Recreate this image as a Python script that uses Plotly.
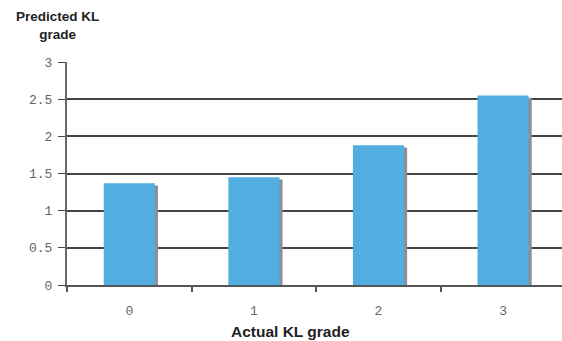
import plotly.graph_objects as go

# Mean predicted KL grade for each actual KL grade
categories = ["0", "1", "2", "3"]
predicted = [1.37, 1.45, 1.88, 2.55]

y_tick_vals = [0, 0.5, 1, 1.5, 2, 2.5, 3]
y_tick_text = ["0", "0.5", "1", "1.5", "2", "2.5", "3"]

bar_color = "#52ADE0"
shadow_color = "#8A9096"
bar_width = 0.41

plot_left, plot_width = 67, 495

fig = go.Figure()

# drop shadow drawn behind each bar, nudged right and down
fig.add_trace(go.Bar(
    x=categories,
    y=[v - 0.03 for v in predicted],
    width=bar_width,
    offset=-bar_width / 2 + 0.025,
    marker=dict(color=shadow_color, line=dict(width=0)),
    hoverinfo="skip",
    showlegend=False,
))

fig.add_trace(go.Bar(
    x=categories,
    y=predicted,
    width=bar_width,
    offset=-bar_width / 2,
    marker=dict(color=bar_color, line=dict(width=0)),
    showlegend=False,
))

tick_font = dict(family="Liberation Mono", size=13, color="#666666")

fig.update_layout(
    width=562,
    height=341,
    margin=dict(l=plot_left, r=0, t=62, b=56),
    paper_bgcolor="white",
    plot_bgcolor="white",
    barmode="overlay",
    xaxis=dict(
        type="category",
        range=[-0.5, 3.473],
        showgrid=False,
        showline=True,
        linecolor="#555555",
        linewidth=2,
        ticks="outside",
        tickson="boundaries",
        ticklen=5,
        tickcolor="#555555",
        tickwidth=1.5,
        tickfont=tick_font,
        ticklabelstandoff=12,
        zeroline=False,
        fixedrange=True,
    ),
    yaxis=dict(
        range=[0, 3],
        tickvals=y_tick_vals,
        ticktext=y_tick_text,
        showgrid=True,
        gridcolor="#444444",
        gridwidth=1.5,
        showline=True,
        linecolor="#666666",
        linewidth=2,
        ticks="outside",
        ticklen=7,
        tickcolor="#444444",
        tickwidth=1.2,
        tickfont=tick_font,
        ticklabelstandoff=3,
        zeroline=False,
        fixedrange=True,
    ),
    annotations=[
        dict(
            text="<b>Predicted KL<br>grade</b>",
            xref="paper", yref="paper",
            x=(57 - plot_left) / plot_width, y=1,
            xanchor="center", yanchor="bottom",
            yshift=18,
            showarrow=False, align="center",
            font=dict(family="Liberation Sans", size=13.5, color="#222222"),
        ),
        dict(
            text="<b>Actual KL grade</b>",
            xref="paper", yref="paper",
            x=(290 - plot_left) / plot_width, y=0,
            xanchor="center", yanchor="middle",
            yshift=-46,
            showarrow=False,
            font=dict(family="Liberation Sans", size=15.5, color="#222222"),
        ),
    ],
)

fig.write_html("out.html")
